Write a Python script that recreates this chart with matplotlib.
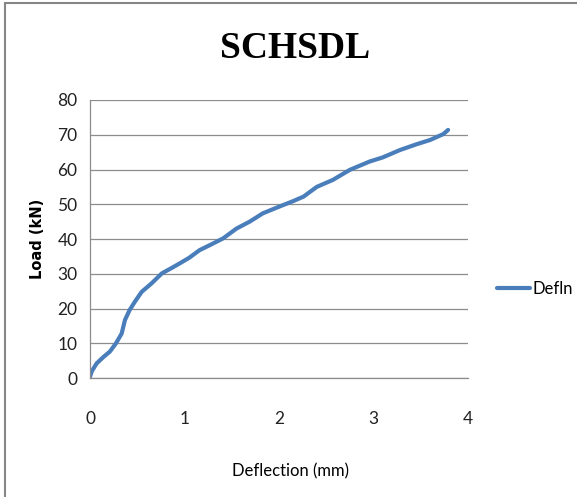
import numpy as np
import matplotlib
matplotlib.use("Agg")
import matplotlib.pyplot as plt
from matplotlib.patches import Rectangle

# deflection (mm) and load (kN)
defl = [0.0, 0.02, 0.07, 0.14, 0.21, 0.275, 0.335, 0.37, 0.42, 0.476, 0.547,
        0.65, 0.76, 0.86, 0.95, 1.05, 1.16, 1.28, 1.41, 1.55, 1.69, 1.83,
        2.01, 2.15, 2.26, 2.40, 2.57, 2.75, 2.96, 3.10, 3.28, 3.46, 3.60,
        3.74, 3.79]
load = [0.4, 2.0, 4.2, 6.0, 7.6, 10.0, 12.8, 16.7, 19.6, 22.0, 24.8,
        27.2, 30.1, 31.6, 33.0, 34.6, 36.8, 38.4, 40.2, 43.0, 45.0, 47.4,
        49.4, 50.9, 52.2, 55.0, 57.0, 59.9, 62.3, 63.5, 65.6, 67.3, 68.5,
        70.2, 71.4]
series_name = "Defln"
x_ticks = [0, 1, 2, 3, 4]
y_ticks = [0, 10, 20, 30, 40, 50, 60, 70, 80]

narrow = ['Lato', 'DejaVu Sans']

fig = plt.figure(figsize=(5.77, 4.97), dpi=100)
ax = fig.add_axes([0.156, 0.2394, 0.655, 0.5594])

ax.plot(defl, load, color='#4a7ebb', lw=3, solid_capstyle='round', label=series_name)

ax.set_xlim(0, 4)
ax.set_ylim(0, 80)
ax.set_xticks(x_ticks)
ax.set_yticks(y_ticks)
ax.grid(axis='y', color='#8c8c8c', lw=0.9)
ax.set_axisbelow(True)
for s in ['top', 'right']:
    ax.spines[s].set_visible(False)
for s in ['left', 'bottom']:
    ax.spines[s].set_color('#8c8c8c')
    ax.spines[s].set_linewidth(0.9)
ax.tick_params(length=0, labelsize=12.5, labelcolor='#222222')
ax.tick_params(axis='x', pad=24)
ax.tick_params(axis='y', pad=9)
for lab in ax.get_xticklabels() + ax.get_yticklabels():
    lab.set_family(narrow)

ax.set_xlabel('Deflection (mm)', fontsize=12, family=narrow)
ax.xaxis.set_label_coords(0.53, -0.305)
ax.set_ylabel('Load (kN)', fontsize=10.5, fontweight='bold')
ax.yaxis.set_label_coords(-0.118, 0.5)

fig.text(0.511, 0.903, 'SCHSDL', ha='center', va='center', fontsize=27,
         fontweight='bold', family='Liberation Serif')

ax.legend(loc='center left', bbox_to_anchor=(1.076, 0.32), frameon=False,
          handlelength=2.0, handletextpad=0.15, borderpad=0, borderaxespad=0,
          prop={'family': narrow, 'size': 12})

fig.patches.append(Rectangle((5 / 577, -0.1), 1.2, 1.1 - 3 / 497,
                             transform=fig.transFigure, fill=False,
                             edgecolor='#868686', lw=1.5))

fig.savefig('out.png', dpi=100)
